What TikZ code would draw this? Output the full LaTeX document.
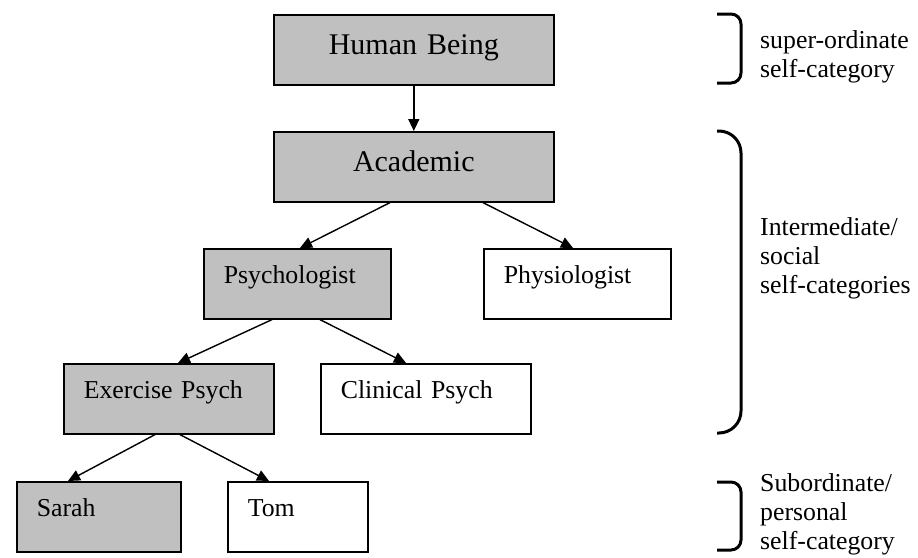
\documentclass[tikz,border=0pt]{standalone}
\usepackage{fontspec}
\setmainfont{Liberation Serif}
\usetikzlibrary{arrows.meta,calc}
\definecolor{boxgray}{RGB}{192,192,192}
\begin{document}
\begin{tikzpicture}[x=1pt,y=-1pt,
  catbox/.style={draw=black, line width=1.6pt, anchor=north west, inner xsep=20pt, inner ysep=0pt,
    text height=35pt, text depth=35pt, align=left, font=\fontsize{25.8}{29}\selectfont},
  bigbox/.style={catbox, fill=boxgray, text height=40pt, text depth=30pt, align=center,
    text width=240pt, font=\fontsize{30}{34}\selectfont},
  grey/.style={fill=boxgray},
  arr/.style={-{Triangle[length=12pt,width=11pt]}, line width=1.4pt},
  brace/.style={line width=3pt},
  lab/.style={anchor=base west, inner sep=0pt, font=\fontsize{25.8}{29}\selectfont}]
\useasboundingbox (0,0) rectangle (918,557);

\node[bigbox] (human) at (273,14) {Human Being};
\node[bigbox] (acad) at (273,131) {Academic};
\node[catbox,grey,text width=147pt] (psy) at (203,248) {Psychologist};
\node[catbox,text width=147pt] (phys) at (483,248) {Physiologist};
\node[catbox,grey,text width=170pt] (exer) at (63,363) {Exercise Psych};
\node[catbox,text width=170pt] (clin) at (320,363) {Clinical Psych};
\node[catbox,grey,text width=124pt] (sarah) at (16,481) {Sarah};
\node[catbox,text width=100pt] (tom) at (227,481) {Tom};

\draw[arr] (human.south) -- (acad.north);
\draw[arr] ($(acad.south west)+(117,0)$) -- ($(psy.north west)+(97,0)$);
\draw[arr] ($(acad.south west)+(210,0)$) -- ($(phys.north west)+(90,0)$);
\draw[arr] ($(psy.south west)+(69,0)$) -- ($(exer.north west)+(115,0)$);
\draw[arr] ($(psy.south west)+(117,0)$) -- ($(clin.north west)+(86,0)$);
\draw[arr] ($(exer.south west)+(92,0)$) -- ($(sarah.north west)+(52,0)$);
\draw[arr] ($(exer.south west)+(117,0)$) -- ($(tom.north west)+(42,0)$);

\draw[brace, rounded corners=10pt] (717,14) -- (741,14) -- (741,83) -- (717,83);
\draw[brace, rounded corners=22pt] (717,131) -- (741,131) -- (741,433) -- (717,433);
\draw[brace, rounded corners=10pt] (717,482) -- (741,482) -- (741,550) -- (717,550);

\node[lab] (lsup) at (760,48) {\parbox[t]{160pt}{\raggedright super-ordinate\\self-category}};
\node[lab] (lint) at (760,235) {\parbox[t]{160pt}{\raggedright Intermediate/\\social\\self-categories}};
\node[lab] (lsub) at (760,491) {\parbox[t]{160pt}{\raggedright Subordinate/\\personal\\self-category}};
\end{tikzpicture}
\end{document}
